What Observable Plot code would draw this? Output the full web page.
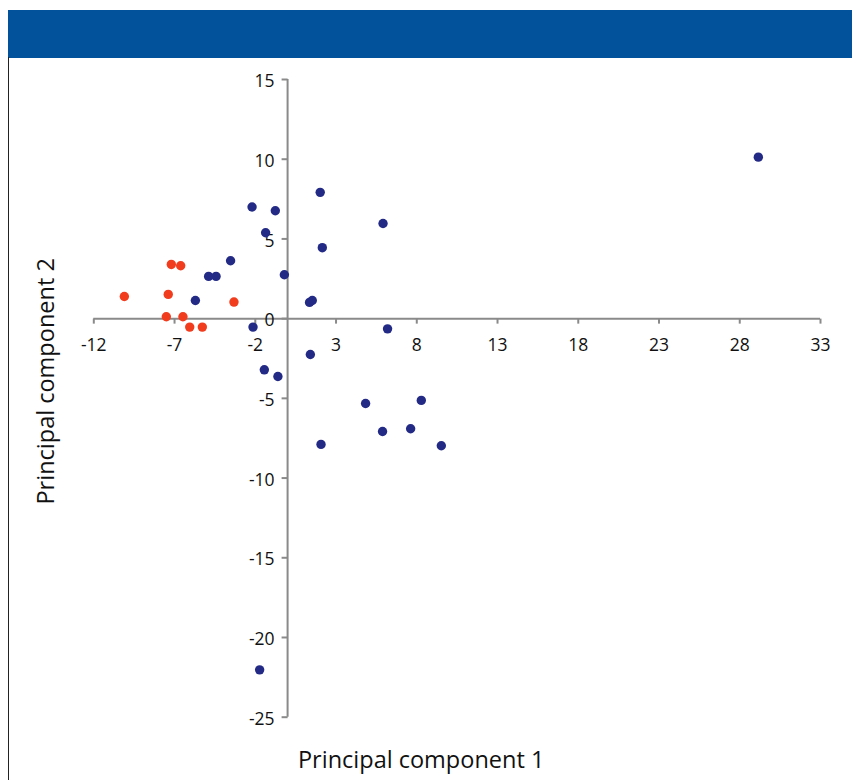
<!DOCTYPE html>
<html>
<head>
<meta charset="utf-8">
<script src="https://cdn.jsdelivr.net/npm/d3@7"></script>
<script src="https://cdn.jsdelivr.net/npm/@observablehq/plot@0.6"></script>
<style>
  html, body { margin: 0; padding: 0; background: #fff; }
  #wrap { position: relative; width: 852px; height: 780px; overflow: hidden; }
  #header { position: absolute; left: 8px; top: 10px; width: 844px; height: 47.5px; background: #02519b; }
  #border { position: absolute; left: 7.5px; top: 57px; width: 1.6px; height: 723px; background: #222; }
  #chart { position: absolute; left: 0; top: 0; }
</style>
</head>
<body>
<div id="wrap">
  <div id="chart"></div>
  <div id="header"></div>
  <div id="border"></div>
</div>
<script>
// Group 1 (blue)
const blueX = [-2.20, -0.76, -1.36, -3.53, -4.89, -4.43, -0.20, -5.71, -2.14, 1.36, 1.53, 2.02, 5.91, 2.15, 6.19, 1.41, -1.44, -0.60, 4.83, 8.28, 5.88, 7.62, 2.07, 9.52, 29.15, -1.73];
const blueY = [7.00, 6.77, 5.39, 3.63, 2.65, 2.65, 2.75, 1.14, -0.53, 1.02, 1.14, 7.92, 5.97, 4.45, -0.64, -2.25, -3.21, -3.63, -5.32, -5.13, -7.08, -6.91, -7.89, -7.97, 10.13, -22.03];
// Group 2 (red)
const redX = [-10.11, -7.20, -6.62, -7.39, -7.51, -6.48, -6.06, -5.28, -3.32];
const redY = [1.39, 3.40, 3.32, 1.52, 0.12, 0.12, -0.53, -0.53, 1.04];

const xTicks = [-12, -7, -2, 3, 8, 13, 18, 23, 28, 33];
const yTicks = [15, 10, 5, 0, -5, -10, -15, -20, -25];
const xTitle = "Principal component 1";
const yTitle = "Principal component 2";

const blue = blueX.map((x, i) => ({x, y: blueY[i]}));
const red = redX.map((x, i) => ({x, y: redY[i]}));

const axisColor = "#8a8a8a";
const textColor = "#111";
const tickDown = {draw(ctx) { ctx.moveTo(0, 0); ctx.lineTo(0, 5); }};
const tickLeft = {draw(ctx) { ctx.moveTo(0, 0); ctx.lineTo(-6, 0); }};

const chart = Plot.plot({
  width: 852,
  height: 780,
  marginLeft: 93.3,
  marginRight: 32,
  marginTop: 79,
  marginBottom: 63.3,
  style: {fontFamily: "'Open Sans', sans-serif", background: "transparent", overflow: "visible"},
  x: {domain: [xTicks[0], xTicks[xTicks.length - 1]], axis: null},
  y: {domain: [yTicks[yTicks.length - 1], yTicks[0]], axis: null},
  marks: [
    Plot.ruleY([0], {x1: xTicks[0], x2: xTicks[xTicks.length - 1], stroke: axisColor, strokeWidth: 2}),
    Plot.ruleX([0], {y1: yTicks[yTicks.length - 1], y2: yTicks[0], stroke: axisColor, strokeWidth: 2}),
    Plot.dot(xTicks, {x: d => d, y: 0, symbol: tickDown, r: 3, fill: "none", stroke: axisColor, strokeWidth: 2}),
    Plot.dot(yTicks, {x: 0, y: d => d, symbol: tickLeft, r: 3, fill: "none", stroke: axisColor, strokeWidth: 2}),
    Plot.text(xTicks, {x: d => d, y: 0, text: d => String(d), dy: 27, fontSize: 17.5, fill: textColor}),
    Plot.text(yTicks, {x: 0, y: d => d, text: d => String(d), textAnchor: "end", dx: -13, dy: 2, fontSize: 17.5, fill: textColor}),
    Plot.dot(blue, {x: "x", y: "y", r: 4.7, fill: "#232a86", stroke: "none"}),
    Plot.dot(red, {x: "x", y: "y", r: 4.7, fill: "#f23c1e", stroke: "none"}),
    Plot.text([xTitle], {frameAnchor: "bottom", textAnchor: "middle", lineAnchor: "middle", dx: -36, dy: 43, fontSize: 23.5, fill: textColor}),
    Plot.text([yTitle], {frameAnchor: "left", textAnchor: "middle", lineAnchor: "middle", rotate: -90, dx: -47, dy: -17, fontSize: 23.5, fill: textColor})
  ]
});
document.getElementById("chart").appendChild(chart);
</script>
</body>
</html>
